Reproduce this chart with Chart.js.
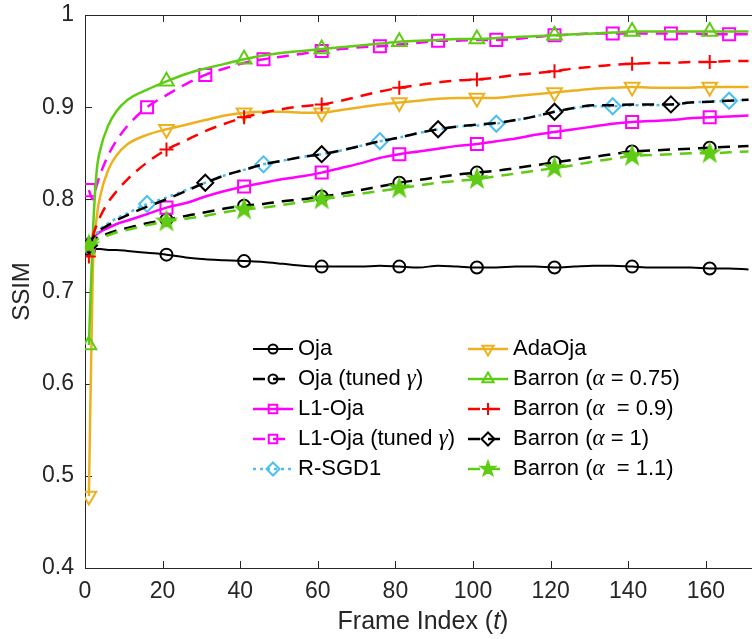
<!DOCTYPE html>
<html>
<head>
<meta charset="utf-8">
<script src="https://cdn.jsdelivr.net/npm/chart.js@4.4.1/dist/chart.umd.min.js"></script>
<style>
  html, body { margin: 0; padding: 0; background: #fff; }
  #wrap { width: 752px; height: 639px; }
</style>
</head>
<body>
<div id="wrap"><canvas id="chart" width="752" height="639"></canvas></div>
<script>
const frames = [1, 2, 3, 4, 6, 8, 11, 16, 21, 26, 31, 36, 41, 46, 51, 56, 61, 66, 71, 76, 81, 86, 91,
  96, 101, 106, 111, 116, 121, 126, 131, 136, 141, 146, 151, 156, 161, 166, 171];

const oja = [0.746, 0.746, 0.746, 0.746, 0.745, 0.745, 0.744, 0.742, 0.740, 0.737, 0.735, 0.734, 0.733,
  0.732, 0.730, 0.728, 0.727, 0.727, 0.727, 0.728, 0.727, 0.726, 0.728, 0.727, 0.726, 0.726, 0.727,
  0.727, 0.726, 0.727, 0.728, 0.728, 0.727, 0.726, 0.726, 0.726, 0.725, 0.725, 0.724];
const ojaTuned = [0.750, 0.755, 0.758, 0.760, 0.763, 0.766, 0.769, 0.774, 0.778, 0.782, 0.786, 0.790,
  0.793, 0.795, 0.798, 0.800, 0.803, 0.806, 0.810, 0.814, 0.818, 0.821, 0.824, 0.827, 0.829, 0.831,
  0.834, 0.837, 0.840, 0.843, 0.846, 0.849, 0.852, 0.853, 0.854, 0.855, 0.856, 0.857, 0.858];
const l1Oja = [0.750, 0.758, 0.762, 0.765, 0.769, 0.773, 0.777, 0.784, 0.791, 0.796, 0.803, 0.809,
  0.814, 0.818, 0.822, 0.825, 0.829, 0.834, 0.839, 0.845, 0.849, 0.852, 0.855, 0.858, 0.860, 0.863,
  0.866, 0.870, 0.873, 0.876, 0.879, 0.882, 0.884, 0.885, 0.886, 0.888, 0.889, 0.890, 0.891];
const l1OjaTuned = [0.810, 0.800, 0.815, 0.828, 0.848, 0.863, 0.880, 0.900, 0.913, 0.925, 0.935, 0.942,
  0.948, 0.952, 0.955, 0.958, 0.961, 0.963, 0.965, 0.966, 0.968, 0.970, 0.972, 0.972, 0.973, 0.973,
  0.974, 0.976, 0.978, 0.979, 0.980, 0.980, 0.980, 0.980, 0.980, 0.980, 0.979, 0.979, 0.979];
const rSgd1 = [0.750, 0.758, 0.763, 0.768, 0.774, 0.779, 0.785, 0.795, 0.802, 0.810, 0.818, 0.826,
  0.832, 0.838, 0.842, 0.846, 0.849, 0.853, 0.858, 0.863, 0.867, 0.872, 0.876, 0.879, 0.880, 0.882,
  0.886, 0.890, 0.895, 0.899, 0.901, 0.901, 0.902, 0.902, 0.903, 0.905, 0.906, 0.907, 0.908];
const adaOja = [0.478, 0.720, 0.780, 0.805, 0.832, 0.847, 0.860, 0.870, 0.876, 0.881, 0.886, 0.891,
  0.894, 0.895, 0.895, 0.894, 0.894, 0.897, 0.900, 0.903, 0.905, 0.907, 0.909, 0.910, 0.910, 0.910,
  0.912, 0.914, 0.916, 0.918, 0.920, 0.921, 0.922, 0.921, 0.921, 0.921, 0.922, 0.922, 0.922];
const barron075 = [0.642, 0.760, 0.830, 0.855, 0.880, 0.895, 0.908, 0.919, 0.928, 0.936, 0.942, 0.947,
  0.952, 0.956, 0.959, 0.961, 0.963, 0.965, 0.967, 0.969, 0.971, 0.972, 0.973, 0.974, 0.974, 0.975,
  0.976, 0.977, 0.978, 0.979, 0.980, 0.981, 0.982, 0.982, 0.982, 0.982, 0.982, 0.982, 0.982];
const barron09 = [0.738, 0.760, 0.772, 0.782, 0.797, 0.808, 0.822, 0.840, 0.854, 0.864, 0.874, 0.882,
  0.889, 0.894, 0.898, 0.901, 0.903, 0.907, 0.912, 0.917, 0.921, 0.924, 0.927, 0.929, 0.930, 0.932,
  0.935, 0.937, 0.939, 0.942, 0.944, 0.946, 0.947, 0.948, 0.948, 0.949, 0.949, 0.950, 0.950];
const barron1 = [0.750, 0.758, 0.763, 0.767, 0.772, 0.777, 0.783, 0.792, 0.800, 0.809, 0.818, 0.826,
  0.832, 0.838, 0.842, 0.846, 0.849, 0.853, 0.858, 0.863, 0.867, 0.872, 0.876, 0.879, 0.881, 0.883,
  0.886, 0.890, 0.895, 0.899, 0.902, 0.902, 0.903, 0.903, 0.903, 0.905, 0.906, 0.907, 0.908];
const barron11 = [0.750, 0.753, 0.756, 0.758, 0.761, 0.764, 0.767, 0.772, 0.776, 0.779, 0.782, 0.786,
  0.789, 0.791, 0.794, 0.797, 0.800, 0.803, 0.806, 0.809, 0.812, 0.815, 0.818, 0.820, 0.822, 0.825,
  0.828, 0.831, 0.834, 0.837, 0.841, 0.844, 0.847, 0.848, 0.849, 0.850, 0.850, 0.851, 0.852];

// frames that carry a marker
const marks20 = [1, 21, 41, 61, 81, 101, 121, 141, 161];
const marks15 = [1, 16, 31, 46, 61, 76, 91, 106, 121, 136, 151, 166];
const marksRsgd = [1, 16, 46, 76, 106, 136, 166];
const marksBarron1 = [1, 31, 61, 91, 121, 151];

const xTicksStep = 20;
const yTicksStep = 0.1;

const FONT = '"Liberation Sans", Arial, Helvetica, sans-serif';
const AXIS = '#262626';
const GREEN = '#5fcc14';

function pentagram(color, r) {
  const c = document.createElement('canvas');
  const s = Math.ceil(r * 2 + 4);
  c.width = s; c.height = s;
  const g = c.getContext('2d');
  g.beginPath();
  for (let i = 0; i < 10; i++) {
    const rad = i % 2 ? r * 0.4 : r;
    const a = -Math.PI / 2 + i * Math.PI / 5;
    const px = s / 2 + rad * Math.cos(a), py = s / 2 + rad * Math.sin(a);
    if (i) g.lineTo(px, py); else g.moveTo(px, py);
  }
  g.closePath();
  g.fillStyle = color; g.fill();
  g.strokeStyle = color; g.lineWidth = 1.5; g.stroke();
  return c;
}

function series(label, values, color, dash, marks, style, radius, legendStyle, legendRadius, extra) {
  return Object.assign({
    label: label,
    data: frames.map((f, i) => ({ x: f, y: values[i] })),
    borderColor: color,
    borderWidth: 2.5,
    borderDash: dash,
    pointStyle: style,
    pointBorderColor: color,
    pointBackgroundColor: 'rgba(0,0,0,0)',
    pointBorderWidth: 2,
    pointRadius: ctx => marks.includes(frames[ctx.dataIndex]) ? radius : 0,
    pointHoverRadius: 0,
    pointRotation: 0,
    cubicInterpolationMode: 'monotone',
    fill: false,
    legendStyle: legendStyle,
    legendRadius: legendRadius
  }, extra || {});
}

const DASH = [12, 8];
const datasets = [
  series('Oja', oja, '#000000', [], marks20, 'circle', 6, 'circle', 4.5, { borderWidth: 2 }),
  series('Oja (tuned γ)', ojaTuned, '#000000', DASH, marks20, 'circle', 6, 'circle', 4.5),
  series('L1-Oja', l1Oja, '#ff00ff', [], marks20, 'rect', 8.5, 'rect', 6),
  series('L1-Oja (tuned γ)', l1OjaTuned, '#ff00ff', DASH, marks15, 'rect', 8.5, 'rect', 6),
  series('R-SGD1', rSgd1, '#4dbeee', [3, 4], marksRsgd, 'rectRot', 8, 'rectRot', 6.5),
  series('AdaOja', adaOja, '#edb120', [], marks20, 'triangle', 8.5, 'triangle', 6.5, { pointRotation: 180 }),
  series('Barron (α = 0.75)', barron075, GREEN, [], marks20, 'triangle', 8.5, 'triangle', 6.5),
  series('Barron (α  = 0.9)', barron09, '#ff0000', DASH, marks20, 'cross', 7, 'cross', 6),
  series('Barron (α = 1)', barron1, '#000000', DASH, marksBarron1, 'rectRot', 8, 'rectRot', 6.5),
  series('Barron (α  = 1.1)', barron11, GREEN, DASH, marks20, pentagram(GREEN, 10), 10, pentagram(GREEN, 8), 8)
];
// later series on top, as in the original plot
datasets.forEach((d, i) => { d.order = datasets.length - i; });

function drawParts(ctx, parts, x, y) {
  parts.forEach(p => {
    ctx.font = p[1] ? 'italic 23px "Liberation Serif", "DejaVu Serif", serif' : '22px ' + FONT;
    ctx.fillText(p[0], x, y);
    x += ctx.measureText(p[0]).width;
  });
  return x;
}

function labelParts(label) {
  const out = [];
  label.split(/([αγ])/).forEach(s => { if (s) out.push([s, s === 'α' || s === 'γ']); });
  return out;
}

const decorPlugin = {
  id: 'decor',
  beforeDatasetsDraw(chart) {
    const { ctx, chartArea: a, scales: { x, y } } = chart;
    ctx.save();
    ctx.strokeStyle = AXIS;
    ctx.lineWidth = 1;
    ctx.beginPath();
    ctx.moveTo(a.left, a.top + 0.5);
    ctx.lineTo(a.right, a.top + 0.5);
    x.ticks.forEach(t => {
      const px = Math.round(x.getPixelForValue(t.value)) + 0.5;
      ctx.moveTo(px, a.bottom); ctx.lineTo(px, a.bottom - 7);
      ctx.moveTo(px, a.top); ctx.lineTo(px, a.top + 7);
    });
    y.ticks.forEach(t => {
      const py = Math.round(y.getPixelForValue(t.value)) + 0.5;
      ctx.moveTo(a.left, py); ctx.lineTo(a.left + 7, py);
    });
    ctx.stroke();
    ctx.restore();
  },
  afterDraw(chart) {
    const { ctx, chartArea: a } = chart;
    ctx.save();
    // axis titles
    ctx.fillStyle = AXIS;
    ctx.textBaseline = 'middle';
    ctx.textAlign = 'left';
    const xParts = [['Frame Index (', false], ['t', true], [')', false]];
    let w = 0;
    xParts.forEach(p => {
      ctx.font = (p[1] ? 'italic ' : '') + '25px ' + FONT;
      w += ctx.measureText(p[0]).width;
    });
    let tx = 423 - w / 2;
    xParts.forEach(p => {
      ctx.font = (p[1] ? 'italic ' : '') + '25px ' + FONT;
      ctx.fillText(p[0], tx, 622);
      tx += ctx.measureText(p[0]).width;
    });
    ctx.save();
    ctx.translate(22, (a.top + a.bottom) / 2);
    ctx.rotate(-Math.PI / 2);
    ctx.textAlign = 'center';
    ctx.font = '24px ' + FONT;
    ctx.fillText('SSIM', 0, 0);
    ctx.restore();

    // legend, two columns of five
    const cols = [{ x0: 253, x1: 293, text: 298 }, { x0: 468, x1: 508, text: 513 }];
    chart.data.datasets.forEach((d, i) => {
      const col = cols[Math.floor(i / 5)];
      const ly = 349 + (i % 5) * 30;
      ctx.save();
      ctx.strokeStyle = d.borderColor;
      ctx.lineWidth = d.borderWidth;
      ctx.setLineDash(d.borderDash);
      ctx.beginPath();
      ctx.moveTo(col.x0, ly);
      ctx.lineTo(col.x1, ly);
      ctx.stroke();
      ctx.setLineDash([]);
      ctx.strokeStyle = d.pointBorderColor;
      ctx.fillStyle = d.pointBackgroundColor;
      ctx.lineWidth = d.pointBorderWidth;
      Chart.helpers.drawPoint(ctx, {
        pointStyle: d.legendStyle, radius: d.legendRadius, rotation: d.pointRotation, borderWidth: d.pointBorderWidth
      }, (col.x0 + col.x1) / 2, ly);
      ctx.restore();
      ctx.fillStyle = '#000';
      ctx.textBaseline = 'middle';
      ctx.textAlign = 'left';
      drawParts(ctx, labelParts(d.label), col.text, ly);
    });
    ctx.restore();
  }
};

new Chart(document.getElementById('chart'), {
  type: 'line',
  data: { datasets: datasets },
  options: {
    responsive: false,
    animation: false,
    events: [],
    layout: { autoPadding: false, padding: { top: 15, right: 0, left: 0, bottom: 0 } },
    plugins: {
      legend: { display: false },
      tooltip: { enabled: false }
    },
    scales: {
      x: {
        type: 'linear',
        min: 0,
        max: 171.9,
        grid: { display: false, drawTicks: false },
        border: { display: true, color: AXIS, width: 1 },
        ticks: {
          stepSize: xTicksStep,
          includeBounds: false,
          padding: 10,
          color: AXIS,
          font: { family: FONT, size: 23 },
          maxRotation: 0
        },
        afterFit: s => { s.height = 71; }
      },
      y: {
        min: 0.4,
        max: 1,
        grid: { display: false, drawTicks: false },
        border: { display: true, color: AXIS, width: 1 },
        ticks: {
          stepSize: yTicksStep,
          padding: 11,
          color: AXIS,
          font: { family: FONT, size: 23 },
          callback: v => Math.abs(v - 1) < 1e-9 ? '1' : v.toFixed(1)
        },
        afterFit: s => { s.width = 85; s.paddingTop = 0; s.paddingBottom = 0; }
      }
    }
  },
  plugins: [decorPlugin]
});
</script>
</body>
</html>
